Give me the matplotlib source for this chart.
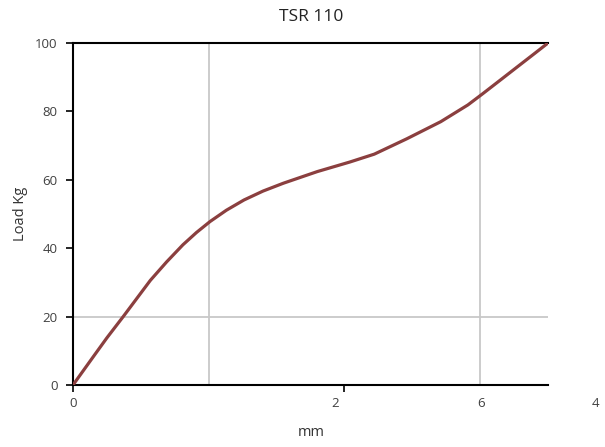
import matplotlib
matplotlib.use("Agg")
import matplotlib.pyplot as plt
import matplotlib.transforms as mtransforms

plt.rcParams['font.family'] = ['Open Sans', 'DejaVu Sans']

# Data
mm = [0, 0.15, 0.25, 0.37, 0.47, 0.57, 0.69, 0.81, 0.91, 1.01, 1.13, 1.26,
      1.40, 1.55, 1.80, 2.04, 2.22, 2.46, 2.71, 2.91, 3.02, 3.15, 3.27,
      3.40, 3.50]
load = [0, 8.3, 13.8, 20, 25.3, 30.6, 36.0, 41.0, 44.6, 47.8, 51.1, 54.1,
        56.7, 59.0, 62.4, 65.2, 67.5, 72.0, 77.0, 81.9, 85.2, 89.2, 92.9,
        96.9, 100]

yticks = [0, 20, 40, 60, 80, 100]
xtick_marks = [0, 2]
vgrid = [1, 3]
hgrid = [20]
# x tick labels as they appear (label, position in data units)
xlabels = ["0", "2", "6", "4"]
xlabel_pos = [0, 1.93, 3.01, 3.85]

fig = plt.figure(figsize=(6.05, 4.47), dpi=100)
ax = fig.add_axes([73/605, 1-385/447, (548-73)/605, (385-43)/447])

ax.plot(mm, load, color='#8B3F3F', lw=2.3, solid_capstyle='round',
        solid_joinstyle='round', zorder=3)

ax.set_xlim(0, 3.5)
ax.set_ylim(0, 100)

for g in vgrid:
    ax.axvline(g, color='#c8c8c8', lw=1.3, zorder=1)
for g in hgrid:
    ax.axhline(g, color='#c8c8c8', lw=1.3, zorder=1)

ax.set_yticks(yticks)
ax.set_yticklabels([str(v) for v in yticks])
ax.set_xticks(xtick_marks)
ax.set_xticklabels([])
ax.tick_params(axis='both', direction='out', length=5, width=1.2,
               colors='black', labelcolor='#404040', labelsize=9.5)
ax.tick_params(axis='y', pad=6)

trans = mtransforms.blended_transform_factory(ax.transData, ax.transAxes)
for lab, pos in zip(xlabels, xlabel_pos):
    ax.text(pos, -0.035, lab, transform=trans, ha='center', va='top',
            fontsize=9.5, color='#404040', clip_on=False)

for s in ['left', 'bottom', 'top']:
    ax.spines[s].set_color('black')
    ax.spines[s].set_linewidth(1.5)
ax.spines['right'].set_visible(False)

fig.text(311/605, 1-17/447, "TSR 110", ha='center', va='center',
         fontsize=12.5, color='#222222')
fig.text(311/605, 1-432/447, "mm", ha='center', va='center',
         fontsize=10.5, color='#333333')
fig.text(20/605, 1-214/447, "Load Kg", ha='center', va='center',
         rotation=90, fontsize=10.5, color='#333333')

fig.savefig("out.png", dpi=100)
